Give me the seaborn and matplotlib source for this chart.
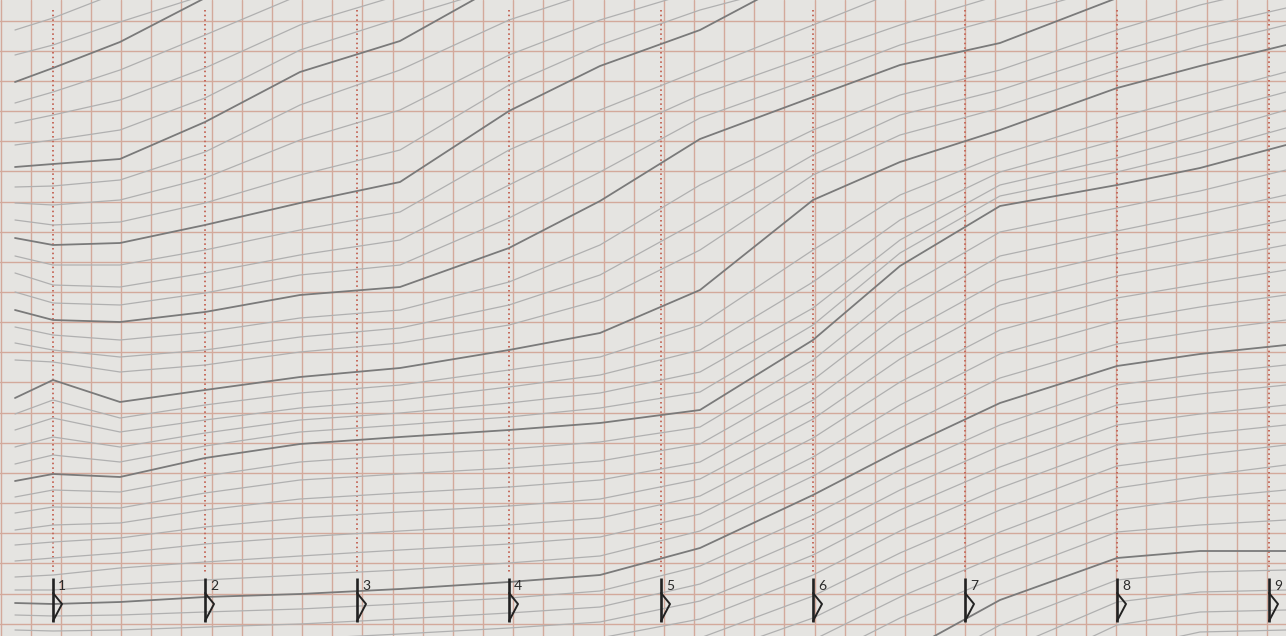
import numpy as np
import pandas as pd
import matplotlib
matplotlib.use("Agg")
import matplotlib.pyplot as plt
import seaborn as sns

N = np.nan

stations = [15, 53, 120, 205, 300, 400, 509, 600, 700, 813, 900, 1000, 1117, 1200, 1286]

# darker pencil lines (y in px, top = 0)
d1 = [82, 68, 42, -2, N, N, N, N, N, N, N, N, N, N, N]
d2 = [167, 164, 159, 122, 72, 41, -20, N, N, N, N, N, N, N, N]
d3 = [238, 245, 243, 225, 203, 182, 111, 66, 30, -30, N, N, N, N, N]
d4 = [310, 320, 322, 312, 295, 287, 248, 201, 139, 97, 65, 43, -2, N, N]
d5 = [398, 380, 402, 390, 377, 368, 350, 333, 290, 200, 162, 130, 88, 66, 45]
d6 = [481, 474, 477, 458, 444, 437, 430, 423, 410, 340, 266, 206, 185, 168, 145]
d7 = [603, 604, 602, 597, 594, 589, 582, 575, 548, 495, 450, 403, 366, 354, 345]
d8 = [N, N, N, N, N, N, N, N, N, 690, 655, 600, 558, 551, 551]

# light pencil lines
l_a = [30, 18, -8, N, N, N, N, N, N, N, N, N, N, N, N]
l_b = [55, 45, 22, -5, N, N, N, N, N, N, N, N, N, N, N]
l_c = [103, 92, 70, 35, -5, N, N, N, N, N, N, N, N, N, N]
l_d = [123, 115, 100, 68, 25, -5, N, N, N, N, N, N, N, N, N]
l_e = [145, 140, 130, 98, 50, 18, -15, N, N, N, N, N, N, N, N]
l_f = [187, 186, 180, 152, 105, 70, 20, -10, N, N, N, N, N, N, N]
l_g = [203, 205, 200, 178, 140, 110, 55, 20, -10, N, N, N, N, N, N]
l_h = [220, 225, 222, 203, 175, 150, 85, 45, 10, -20, N, N, N, N, N]
l_i = [256, 265, 265, 250, 230, 212, 150, 110, 70, 25, -10, N, N, N, N]
l_j = [273, 285, 287, 273, 255, 240, 185, 140, 95, 55, 25, -5, N, N, N]
l_k = [292, 303, 305, 293, 275, 265, 218, 172, 118, 78, 45, 18, -15, N, N]
l_l = [327, 335, 340, 332, 318, 310, 282, 245, 185, 130, 95, 70, 30, 5, -15]
l_m = [343, 350, 357, 350, 337, 328, 305, 275, 220, 155, 115, 90, 52, 28, 8]
l_n = [360, 362, 372, 365, 352, 343, 325, 300, 250, 175, 135, 108, 70, 46, 25]
l_o = [414, 400, 418, 405, 393, 385, 370, 357, 325, 250, 195, 155, 118, 95, 72]
l_p = [430, 418, 432, 420, 408, 400, 387, 375, 350, 282, 220, 172, 140, 115, 92]
l_q = [447, 437, 447, 433, 420, 413, 403, 393, 372, 308, 240, 185, 158, 135, 110]
l_r = [464, 455, 462, 446, 432, 425, 417, 408, 392, 325, 253, 196, 172, 152, 128]
l_s = [497, 490, 492, 476, 462, 455, 449, 442, 427, 360, 290, 232, 208, 191, 170]
l_t = [513, 507, 508, 493, 480, 474, 468, 461, 444, 380, 313, 256, 231, 214, 195]
l_u = [530, 525, 523, 510, 499, 493, 487, 480, 462, 400, 336, 281, 254, 237, 220]
l_v = [545, 542, 538, 527, 518, 512, 506, 499, 479, 419, 359, 305, 276, 261, 245]
l_w = [561, 558, 553, 544, 537, 531, 525, 518, 496, 438, 382, 330, 298, 284, 270]
l_x1 = [577, 575, 568, 562, 556, 550, 544, 537, 514, 457, 405, 354, 321, 307, 295]
l_x2 = [590, 590, 585, 580, 575, 570, 563, 556, 531, 476, 428, 378, 344, 331, 320]
l_y1 = [615, 616, 615, 612, 609, 604, 598, 591, 566, 515, 470, 425, 385, 374, 365]
l_y2 = [630, 631, 630, 627, 624, 619, 613, 607, 584, 535, 490, 446, 405, 394, 385]
l_y3 = [645, 646, 645, 642, 639, 634, 628, 622, 601, 555, 510, 467, 425, 414, 405]
l_z1 = [N, N, N, N, N, 650, 643, 638, 619, 575, 531, 488, 445, 434, 425]
l_z2 = [N, N, N, N, N, N, N, 655, 638, 596, 553, 510, 466, 455, 445]
l_z3 = [N, N, N, N, N, N, N, N, 658, 618, 575, 532, 488, 476, 465]
l_z4 = [N, N, N, N, N, N, N, N, 680, 640, 597, 555, 510, 498, 490]
l_z5 = [N, N, N, N, N, N, N, N, N, 662, 618, 576, 532, 525, 520]
l_z6 = [N, N, N, N, N, N, N, N, N, N, 680, 625, 580, 572, 570]
l_z7 = [N, N, N, N, N, N, N, N, N, N, N, 652, 602, 592, 590]
l_z8 = [N, N, N, N, N, N, N, N, N, N, N, 680, 625, 612, 610]
l_z9 = [N, N, N, N, N, N, N, N, N, N, N, N, 650, 632, 630]

marker_labels = ["1", "2", "3", "4", "5", "6", "7", "8", "9"]

dark = [d1, d2, d3, d4, d5, d6, d7, d8]
light = [l_a, l_b, l_c, l_d, l_e, l_f, l_g, l_h, l_i, l_j, l_k, l_l, l_m, l_n,
         l_o, l_p, l_q, l_r, l_s, l_t, l_u, l_v, l_w, l_x1, l_x2, l_y1, l_y2,
         l_y3, l_z1, l_z2, l_z3, l_z4, l_z5, l_z6, l_z7, l_z8, l_z9]


def to_frame(lines):
    rows = []
    for i, ys in enumerate(lines):
        for x, y in zip(stations, ys):
            rows.append({"x": x, "y": y, "line": i})
    return pd.DataFrame(rows).dropna()


df_dark = to_frame(dark)
df_light = to_frame(light)

sns.set_theme(style="white")
paper = "#e5e4e1"
fig = plt.figure(figsize=(12.86, 6.36), dpi=100, facecolor=paper)
ax = fig.add_axes([0, 0, 1, 1])
ax.set_facecolor(paper)

# graph paper
grid_col = "#d3a99b"
for gx in np.arange(0.55, 1290, 30.15):
    ax.axvline(gx, color=grid_col, lw=1.0, zorder=1)
for gy in np.arange(20.7, 640, 30.15):
    ax.axhline(gy, color=grid_col, lw=1.0, zorder=1)

mark_x = 53 + 152 * np.arange(len(marker_labels))
for mx in mark_x:
    ax.plot([mx, mx], [10, 574], color="#c56a5c", lw=1.4, ls=(0, (0.8, 1.6)), zorder=2)

# pencil curves
sns.lineplot(data=df_light, x="x", y="y", units="line", estimator=None, sort=False,
             color="#b0b0b0", lw=0.9, legend=False, ax=ax, zorder=3)
sns.lineplot(data=df_dark, x="x", y="y", units="line", estimator=None, sort=False,
             color="#7a7a7a", lw=1.3, legend=False, ax=ax, zorder=4)

# bar markers with numbers
for mx, lab in zip(mark_x, marker_labels):
    ax.plot([mx, mx], [578, 622], color="#222222", lw=1.9, solid_capstyle="butt", zorder=5)
    ax.plot([mx, mx + 9, mx], [593, 604, 621], color="#222222", lw=1.4, zorder=5)
    ax.text(mx + 5, 586, lab, fontsize=10, color="#2a2a2a", ha="left", va="center",
            family="Lato", zorder=5)

ax.set_xlim(0, 1286)
ax.set_ylim(636, 0)
ax.set_xticks([])
ax.set_yticks([])
ax.set_xlabel("")
ax.set_ylabel("")
for s in ax.spines.values():
    s.set_visible(False)

fig.savefig("out.png", dpi=100, facecolor=paper)
